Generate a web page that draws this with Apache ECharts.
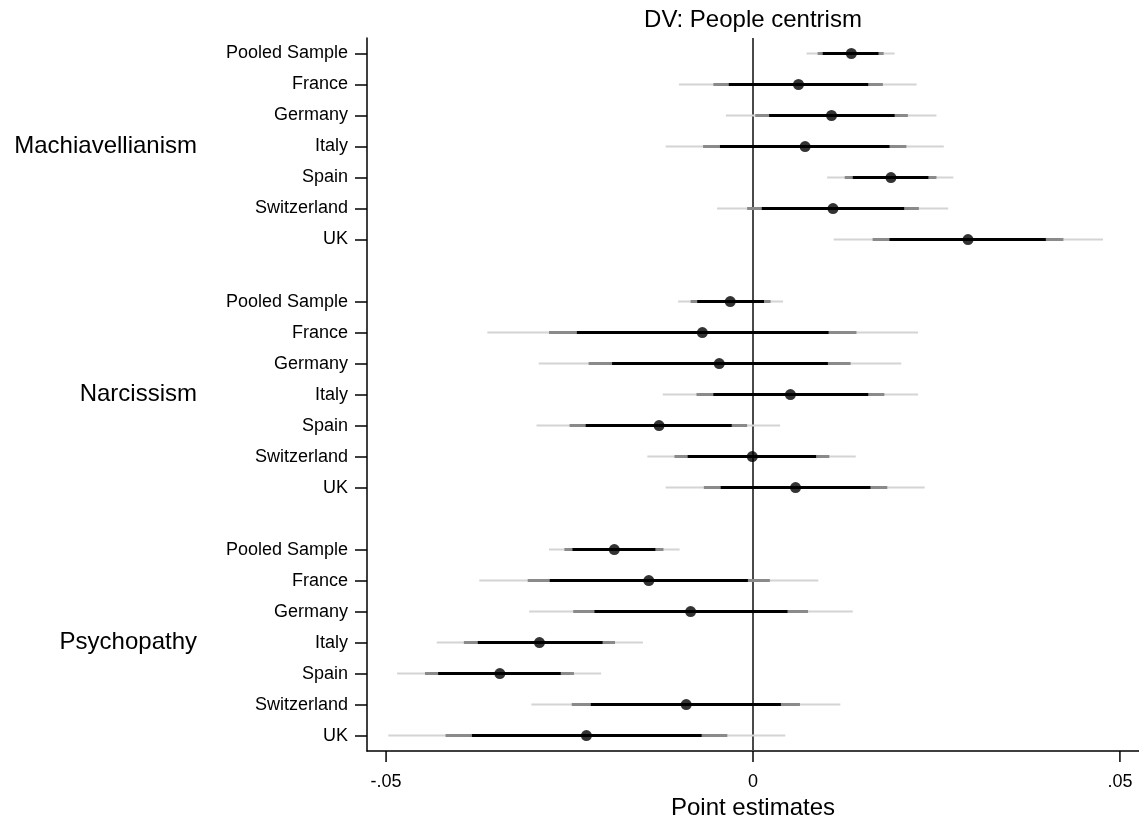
<!DOCTYPE html>
<html>
<head>
<meta charset="utf-8">
<script src="https://cdn.jsdelivr.net/npm/echarts@6/dist/echarts.min.js"></script>
<style>
  html, body { margin: 0; padding: 0; background: #fff; }
  #chart { width: 1139px; height: 816px; }
</style>
</head>
<body>
<div id="chart"></div>
<script>
// rows of each block, top to bottom
const countries = ['Pooled Sample', 'France', 'Germany', 'Italy', 'Spain', 'Switzerland', 'UK'];
const traits = ['Machiavellianism', 'Narcissism', 'Psychopathy'];

// point estimates, 7 per trait (Mach, Narc, Psych)
const pointEst = [
  0.0134, 0.0062, 0.0107, 0.0071, 0.0188, 0.0109, 0.0293,
  -0.0031, -0.0069, -0.0046, 0.0051, -0.0128, -0.0001, 0.0058,
  -0.0189, -0.0142, -0.0085, -0.0291, -0.0345, -0.0091, -0.0227
];
// narrow interval (black)
const ciInnerLo = [
  0.0095, -0.0033, 0.0022, -0.0045, 0.0136, 0.0012, 0.0186,
  -0.0076, -0.0240, -0.0192, -0.0054, -0.0228, -0.0089, -0.0044,
  -0.0246, -0.0277, -0.0216, -0.0375, -0.0429, -0.0221, -0.0383
];
const ciInnerHi = [
  0.0171, 0.0157, 0.0193, 0.0186, 0.0239, 0.0206, 0.0399,
  0.0015, 0.0103, 0.0102, 0.0157, -0.0029, 0.0086, 0.0160,
  -0.0133, -0.0007, 0.0047, -0.0205, -0.0262, 0.0038, -0.0070
];
// middle interval (gray)
const ciMidLo = [
  0.0088, -0.0054, 0.0003, -0.0068, 0.0125, -0.0008, 0.0163,
  -0.0085, -0.0278, -0.0224, -0.0077, -0.0250, -0.0107, -0.0067,
  -0.0257, -0.0307, -0.0245, -0.0394, -0.0447, -0.0247, -0.0419
];
const ciMidHi = [
  0.0178, 0.0177, 0.0211, 0.0209, 0.0250, 0.0226, 0.0423,
  0.0024, 0.0141, 0.0133, 0.0179, -0.0008, 0.0104, 0.0183,
  -0.0122, 0.0023, 0.0075, -0.0188, -0.0244, 0.0064, -0.0035
];
// wide interval (light gray)
const ciOuterLo = [
  0.0073, -0.0101, -0.0037, -0.0119, 0.0101, -0.0049, 0.0110,
  -0.0102, -0.0362, -0.0292, -0.0123, -0.0295, -0.0144, -0.0119,
  -0.0278, -0.0373, -0.0305, -0.0431, -0.0485, -0.0302, -0.0497
];
const ciOuterHi = [
  0.0193, 0.0223, 0.0250, 0.0260, 0.0273, 0.0266, 0.0477,
  0.0041, 0.0225, 0.0202, 0.0225, 0.0037, 0.0140, 0.0234,
  -0.0100, 0.0089, 0.0136, -0.0150, -0.0207, 0.0119, 0.0044
];
const xTickValues = [-0.05, 0, 0.05];
const xTickLabels = ['-.05', '0', '.05'];

// category rows: 7 per trait with an empty row between blocks
const rowLabels = [];
const groupLabels = [];
const rowIndex = [];
traits.forEach((t, g) => {
  if (g > 0) { rowLabels.push(''); groupLabels.push(''); }
  countries.forEach((c, r) => {
    rowIndex.push(rowLabels.length);
    rowLabels.push(c);
    groupLabels.push(r === 3 ? t : '');
  });
});

const font = "'Liberation Sans', Arial, sans-serif";

function intervalSeries(lo, hi, color, width) {
  return {
    type: 'custom',
    xAxisIndex: 0,
    yAxisIndex: 0,
    silent: true,
    encode: { x: [1, 2], y: 0 },
    data: rowIndex.map((y, i) => [y, lo[i], hi[i]]),
    renderItem: function (params, api) {
      const a = api.coord([api.value(1), api.value(0)]);
      const b = api.coord([api.value(2), api.value(0)]);
      return {
        type: 'line',
        shape: { x1: a[0], y1: a[1], x2: b[0], y2: b[1] },
        style: { stroke: color, lineWidth: width, lineCap: 'butt' }
      };
    }
  };
}

const chart = echarts.init(document.getElementById('chart'), null, { renderer: 'canvas' });
chart.setOption({
  animation: false,
  grid: {
    left: 367, right: 0, top: 38, bottom: 56,
    outerBounds: { left: 0, right: 0, top: 0, bottom: -9 }
  },
  xAxis: [
    {
      type: 'value',
      min: -0.0526,
      max: 0.0526,
      name: 'Point estimates',
      nameLocation: 'middle',
      nameGap: 37,
      nameTextStyle: { fontFamily: font, fontSize: 24, color: '#000' },
      splitLine: { show: false },
      axisLine: { show: true, onZero: false, lineStyle: { color: '#000', width: 1.5 } },
      axisTick: { show: false },
      axisLabel: {
        customValues: xTickValues,
        margin: 22,
        fontFamily: font,
        fontSize: 18,
        color: '#000',
        formatter: v => xTickLabels[xTickValues.indexOf(v)]
      }
    },
    {
      type: 'value',
      position: 'top',
      min: -0.0526,
      max: 0.0526,
      name: 'DV: People centrism',
      nameLocation: 'middle',
      nameGap: 6,
      nameTextStyle: { fontFamily: font, fontSize: 24, color: '#000' },
      axisLine: { show: false, onZero: false },
      axisTick: { show: false },
      axisLabel: { show: false },
      splitLine: { show: false }
    }
  ],
  yAxis: [
    {
      type: 'category',
      data: rowLabels,
      inverse: true,
      axisLine: { show: true, onZero: false, lineStyle: { color: '#000', width: 1.5 } },
      axisTick: {
        show: true,
        alignWithLabel: true,
        length: 12,
        interval: (i, v) => v !== '',
        lineStyle: { color: '#000', width: 1.5 }
      },
      axisLabel: { interval: 0, margin: 19, fontFamily: font, fontSize: 18, color: '#000' },
      splitLine: { show: false }
    },
    {
      type: 'category',
      data: groupLabels,
      inverse: true,
      position: 'left',
      offset: 160,
      axisLine: { show: false, onZero: false },
      axisTick: { show: false },
      axisLabel: { interval: 0, margin: 10, fontFamily: font, fontSize: 24, color: '#000' },
      splitLine: { show: false }
    }
  ],
  series: [
    intervalSeries(ciOuterLo, ciOuterHi, '#d4d4d4', 2),
    intervalSeries(ciMidLo, ciMidHi, '#8a8a8a', 3),
    intervalSeries(ciInnerLo, ciInnerHi, '#000000', 3),
    {
      // x-axis tick marks, placed through the x scale below the grid
      type: 'custom',
      xAxisIndex: 0,
      yAxisIndex: 0,
      silent: true,
      clip: false,
      encode: { x: 0 },
      data: xTickValues.map(v => [v]),
      renderItem: function (params, api) {
        const x = api.coord([api.value(0), 0])[0];
        const base = params.coordSys.y + params.coordSys.height;
        return {
          type: 'line',
          shape: { x1: x, y1: base, x2: x, y2: base + 11 },
          style: { stroke: '#000', lineWidth: 1.5 }
        };
      }
    },
    {
      type: 'scatter',
      xAxisIndex: 0,
      yAxisIndex: 0,
      symbol: 'circle',
      symbolSize: 11,
      itemStyle: { color: '#000' },
      data: rowIndex.map((y, i) => [pointEst[i], y]),
      z: 5,
      markLine: {
        silent: true,
        symbol: 'none',
        label: { show: false },
        lineStyle: { color: '#4a4a4a', width: 2, type: 'solid' },
        data: [{ xAxis: 0 }],
        z: 1
      }
    }
  ]
});
</script>
</body>
</html>
